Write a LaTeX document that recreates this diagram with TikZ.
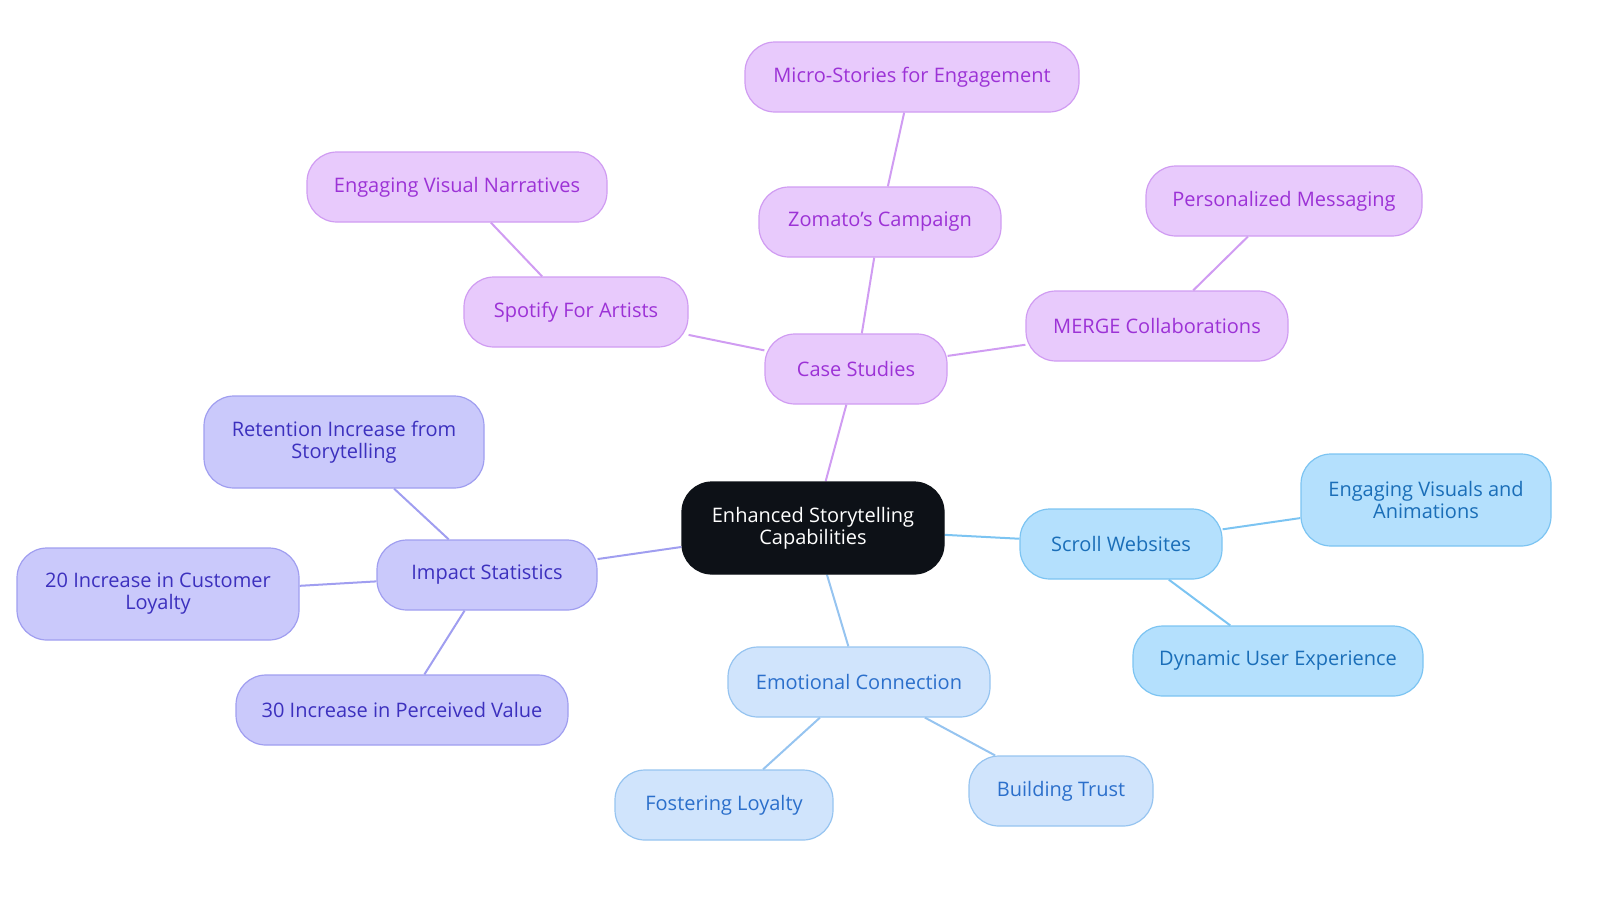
\documentclass[tikz,border=0pt]{standalone}
\usepackage{fontspec}
\setmainfont{Open Sans}
\usetikzlibrary{backgrounds}
\definecolor{purfill}{RGB}{232,202,252}
\definecolor{purline}{RGB}{208,156,242}
\definecolor{purtext}{RGB}{156,50,214}
\definecolor{viofill}{RGB}{202,201,251}
\definecolor{violine}{RGB}{160,158,240}
\definecolor{viotext}{RGB}{60,48,190}
\definecolor{skyfill}{RGB}{180,224,253}
\definecolor{skyline}{RGB}{124,196,242}
\definecolor{skytext}{RGB}{26,110,184}
\definecolor{palefill}{RGB}{208,228,252}
\definecolor{paleline}{RGB}{150,196,240}
\definecolor{paletext}{RGB}{43,111,203}
\definecolor{rootfill}{RGB}{13,17,23}
\tikzset{
  box/.style={draw, line width=1.2pt, rounded corners=30pt, align=center,
    font=\fontsize{20}{22}\selectfont, inner sep=0pt},
  root/.style={box, fill=rootfill, text=white, draw=rootfill},
  case/.style={box, fill=purfill, draw=purline, text=purtext},
  stat/.style={box, fill=viofill, draw=violine, text=viotext},
  scroll/.style={box, fill=skyfill, draw=skyline, text=skytext},
  emo/.style={box, fill=palefill, draw=paleline, text=paletext},
  link/.style={line width=2pt}
}
\begin{document}
\begin{tikzpicture}[x=1pt,y=-1pt]
  \useasboundingbox (0,0) rectangle (1600,903);
  \node[root, minimum width=262pt, minimum height=92pt] (esc) at (813,528) {Enhanced Storytelling\\Capabilities};

  \node[case, minimum width=182pt, minimum height=70pt] (cs) at (856,369) {Case Studies};
  \node[case, minimum width=242pt, minimum height=70pt] (zom) at (880,222) {Zomato's Campaign};
  \node[case, minimum width=334pt, minimum height=70pt] (micro) at (912,77) {Micro-Stories for Engagement};
  \node[case, minimum width=224pt, minimum height=70pt] (spot) at (576,312) {Spotify For Artists};
  \node[case, minimum width=300pt, minimum height=70pt] (evn) at (457,187) {Engaging Visual Narratives};
  \node[case, minimum width=262pt, minimum height=70pt] (merge) at (1157,326) {MERGE Collaborations};
  \node[case, minimum width=276pt, minimum height=70pt] (pers) at (1284,201) {Personalized Messaging};

  \node[stat, minimum width=220pt, minimum height=70pt] (imp) at (487,575) {Impact Statistics};
  \node[stat, minimum width=280pt, minimum height=92pt] (ret) at (344,442) {Retention Increase from\\Storytelling};
  \node[stat, minimum width=282pt, minimum height=92pt] (loy) at (158,594) {20 Increase in Customer\\Loyalty};
  \node[stat, minimum width=332pt, minimum height=70pt] (val) at (402,710) {30 Increase in Perceived Value};

  \node[scroll, minimum width=202pt, minimum height=70pt] (sw) at (1121,544) {Scroll Websites};
  \node[scroll, minimum width=250pt, minimum height=92pt] (eva) at (1426,500) {Engaging Visuals and\\Animations};
  \node[scroll, minimum width=290pt, minimum height=70pt] (dyn) at (1278,661) {Dynamic User Experience};

  \node[emo, minimum width=262pt, minimum height=70pt] (ec) at (859,682) {Emotional Connection};
  \node[emo, minimum width=218pt, minimum height=70pt] (fos) at (724,805) {Fostering Loyalty};
  \node[emo, minimum width=184pt, minimum height=70pt] (bt) at (1061,791) {Building Trust};

  \begin{scope}[on background layer]
    \draw[link, purline] (esc) -- (cs) (cs) -- (zom) (zom) -- (micro)
      (cs) -- (spot) (spot) -- (evn) (cs) -- (merge) (merge) -- (pers);
    \draw[link, violine] (esc) -- (imp) (imp) -- (ret) (imp) -- (loy) (imp) -- (val);
    \draw[link, skyline] (esc) -- (sw) (sw) -- (eva) (sw) -- (dyn);
    \draw[link, paleline] (esc) -- (ec) (ec) -- (fos) (ec) -- (bt);
  \end{scope}
\end{tikzpicture}
\end{document}
